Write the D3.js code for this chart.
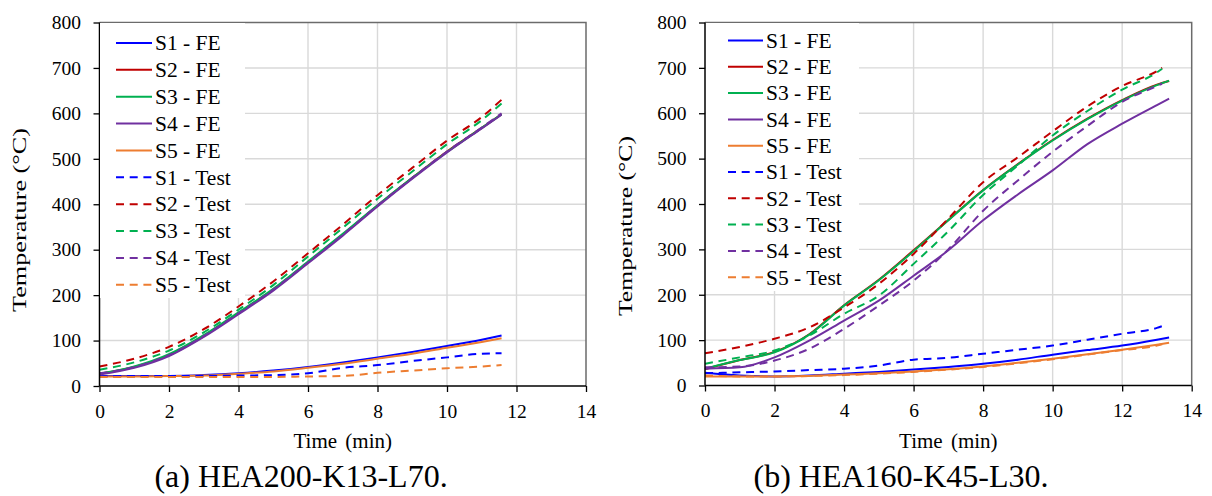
<!DOCTYPE html>
<html><head><meta charset="utf-8">
<script src="https://cdn.jsdelivr.net/npm/d3@7"></script>
<style>
body{margin:0;background:#fff}
svg{display:block}
text{font-family:"Liberation Serif","Times New Roman",Tinos,"DejaVu Serif",serif;fill:#000}
</style>
</head><body>
<svg id="c" width="1212" height="496"></svg>
<script>
// ---------- data ----------
const seriesNames = ["S1","S2","S3","S4","S5"];
const xTicks = [0,2,4,6,8,10,12,14];
const yTicks = [0,100,200,300,400,500,600,700,800];
const captions = ["(a) HEA200-K13-L70.","(b) HEA160-K45-L30."];
const xTitle = "Time (min)";
const yTitle = "Temperature (°C)";

// (a) HEA200-K13-L70
const timeA = [0,1,2,3,4,5,6,7,8,9,10,11,11.57];
const feA_S1 = [22,22,22,24,28,34,42,52,63,75,88,102,111];
const feA_S2 = [27,42,68,110,160,212,272,333,397,458,516,568,598];
const feA_S3 = [27,43,70,112,162,214,274,335,398,458,515,568,598];
const feA_S4 = [25,40,66,108,158,210,270,331,395,456,514,567,597];
const feA_S5 = [21,21,22,23,27,32,40,49,60,71,84,97,105];
const testA_S1 = [21,22,22,22,23,24,28,40,46,55,63,71,72];
const testA_S2 = [43,60,86,125,175,230,292,355,420,480,540,592,630];
const testA_S3 = [36,52,78,118,168,222,285,348,412,472,532,585,622];
const testA_S4 = [28,42,68,110,160,212,272,333,397,458,516,569,600];
const testA_S5 = [20,20,20,20,20,20,21,22,29,34,39,43,46];

// (b) HEA160-K45-L30
const timeB_FE = [0,1,2,3,4,5,6,7,8,9,10,11,12,13,13.35];
const timeB_Test = [0,1,2,3,4,5,6,7,8,9,10,11,12,13,13.15];
const feB_S1 = [28,22,20,22,26,30,35,41,48,57,68,78,88,101,106];
const feB_S2 = [36,56,74,113,177,233,298,365,431,488,541,588,629,663,671];
const feB_S3 = [37,56,73,112,176,232,296,364,430,487,540,587,628,662,672];
const feB_S4 = [37,40,62,99,143,187,242,298,364,421,474,532,577,618,632];
const feB_S5 = [20,20,20,21,24,27,31,36,42,50,59,69,79,90,94];
const testB_S1 = [27,29,31,34,37,44,57,61,70,79,88,101,114,127,131];
const testB_S2 = [71,85,103,128,172,224,290,368,448,503,560,615,660,693,700];
const testB_S3 = [48,62,77,110,158,198,268,340,420,485,551,605,652,690,698];
const testB_S4 = [40,42,55,81,125,176,231,300,385,452,515,572,625,660,665];
const testB_S5 = [22,20,20,21,23,26,30,35,41,49,58,68,78,88,91];

// ---------- styles ----------
const colors = {S1:"#0000ff",S2:"#c00000",S3:"#00b050",S4:"#7030a0",S5:"#ed7d31"};

const panels = [
  {
    fe:[feA_S1,feA_S2,feA_S3,feA_S4,feA_S5], feT:timeA,
    test:[testA_S1,testA_S2,testA_S3,testA_S4,testA_S5], testT:timeA,
    x0:99.5, x1:586, yTop:22.5, yBot:386,
    leg:{bx:100, by:23, bw:145, bh:275, lx0:116, lx1:152, tx:155, y0:43, dy:26.86},
    yt:{x:26, cy:220, len:184}, capX:301
  },
  {
    fe:[feB_S1,feB_S2,feB_S3,feB_S4,feB_S5], feT:timeB_FE,
    test:[testB_S1,testB_S2,testB_S3,testB_S4,testB_S5], testT:timeB_Test,
    x0:705, x1:1191.7, yTop:22.5, yBot:385.5,
    leg:{bx:706, by:23, bw:153, bh:268, lx0:728, lx1:763, tx:766, y0:40.5, dy:26.3},
    yt:{x:632, cy:226, len:180}, capX:901
  }
];

const svg = d3.select("#c");

panels.forEach((p, pi) => {
  const x = d3.scaleLinear().domain([0,14]).range([p.x0,p.x1]);
  const y = d3.scaleLinear().domain([0,800]).range([p.yBot,p.yTop]);
  const g = svg.append("g");

  g.append("g").selectAll("line").data(yTicks.filter(v=>v>0&&v<800)).join("line")
    .attr("x1",p.x0).attr("x2",p.x1).attr("y1",d=>y(d)).attr("y2",d=>y(d))
    .attr("stroke","#d9d9d9").attr("stroke-width",1.4);
  g.append("g").selectAll("line").data(xTicks.filter(v=>v>0&&v<14)).join("line")
    .attr("y1",p.yTop).attr("y2",p.yBot).attr("x1",d=>x(d)).attr("x2",d=>x(d))
    .attr("stroke","#d9d9d9").attr("stroke-width",1.4);

  g.append("path").attr("d",`M${p.x0},${p.yTop}H${p.x1}V${p.yBot}`)
    .attr("fill","none").attr("stroke","#6b6b6b").attr("stroke-width",1.5);

  const line = (tArr) => d3.line().x((d,i)=>x(tArr[i])).y(d=>y(d)).curve(d3.curveMonotoneX);
  p.fe.forEach((arr,i)=>{
    g.append("path").attr("d",line(p.feT)(arr)).attr("fill","none")
      .attr("stroke",colors[seriesNames[i]]).attr("stroke-width",2);
  });
  p.test.forEach((arr,i)=>{
    g.append("path").attr("d",line(p.testT)(arr)).attr("fill","none")
      .attr("stroke",colors[seriesNames[i]]).attr("stroke-width",2)
      .attr("stroke-dasharray","8,5.7");
  });

  const ya = g.append("g").attr("transform",`translate(${p.x0},0)`)
    .call(d3.axisLeft(y).tickValues(yTicks).tickSize(6).tickPadding(12.5).tickFormat(d3.format("d")));
  const xa = g.append("g").attr("transform",`translate(0,${p.yBot})`)
    .call(d3.axisBottom(x).tickValues(xTicks).tickSize(6).tickPadding(12).tickFormat(d3.format("d")));
  [ya,xa].forEach(a=>{
    a.attr("font-family",null);
    a.select(".domain").attr("stroke","#000").attr("stroke-width",1.5);
    a.selectAll(".tick line").attr("stroke","#000").attr("stroke-width",1.3);
    a.selectAll(".tick text").attr("font-size",19.5).attr("fill","#000");
  });
  ya.select(".domain").attr("d",`M0,${p.yBot}V${p.yTop}`);
  xa.select(".domain").attr("d",`M${p.x0},0H${p.x1}`);

  const L = p.leg;
  g.append("rect").attr("x",L.bx).attr("y",L.by).attr("width",L.bw).attr("height",L.bh).attr("fill","#fff");
  const items = [];
  seriesNames.forEach(s=>items.push({s, label:s+" - FE", dash:null}));
  seriesNames.forEach(s=>items.push({s, label:s+" - Test", dash:"8,5.7"}));
  items.forEach((it,i)=>{
    const yy = L.y0 + i*L.dy;
    g.append("line").attr("x1",L.lx0).attr("x2",L.lx1).attr("y1",yy).attr("y2",yy)
      .attr("stroke",colors[it.s]).attr("stroke-width",2)
      .attr("stroke-dasharray",it.dash);
    g.append("text").attr("x",L.tx).attr("y",yy+7.3).attr("font-size",21.5).text(it.label);
  });

  g.append("text").attr("x",(p.x0+p.x1)/2).attr("y",448).attr("text-anchor","middle")
    .attr("font-size",21).attr("word-spacing",3).text(xTitle);
  g.append("text").attr("transform",`translate(${p.yt.x},${p.yt.cy}) rotate(-90)`)
    .attr("text-anchor","middle").attr("font-size",19)
    .attr("textLength",p.yt.len).attr("lengthAdjust","spacingAndGlyphs").text(yTitle);
  g.append("text").attr("x",p.capX).attr("y",487).attr("text-anchor","middle")
    .attr("font-size",32).text(captions[pi]);
});
</script>
</body></html>
